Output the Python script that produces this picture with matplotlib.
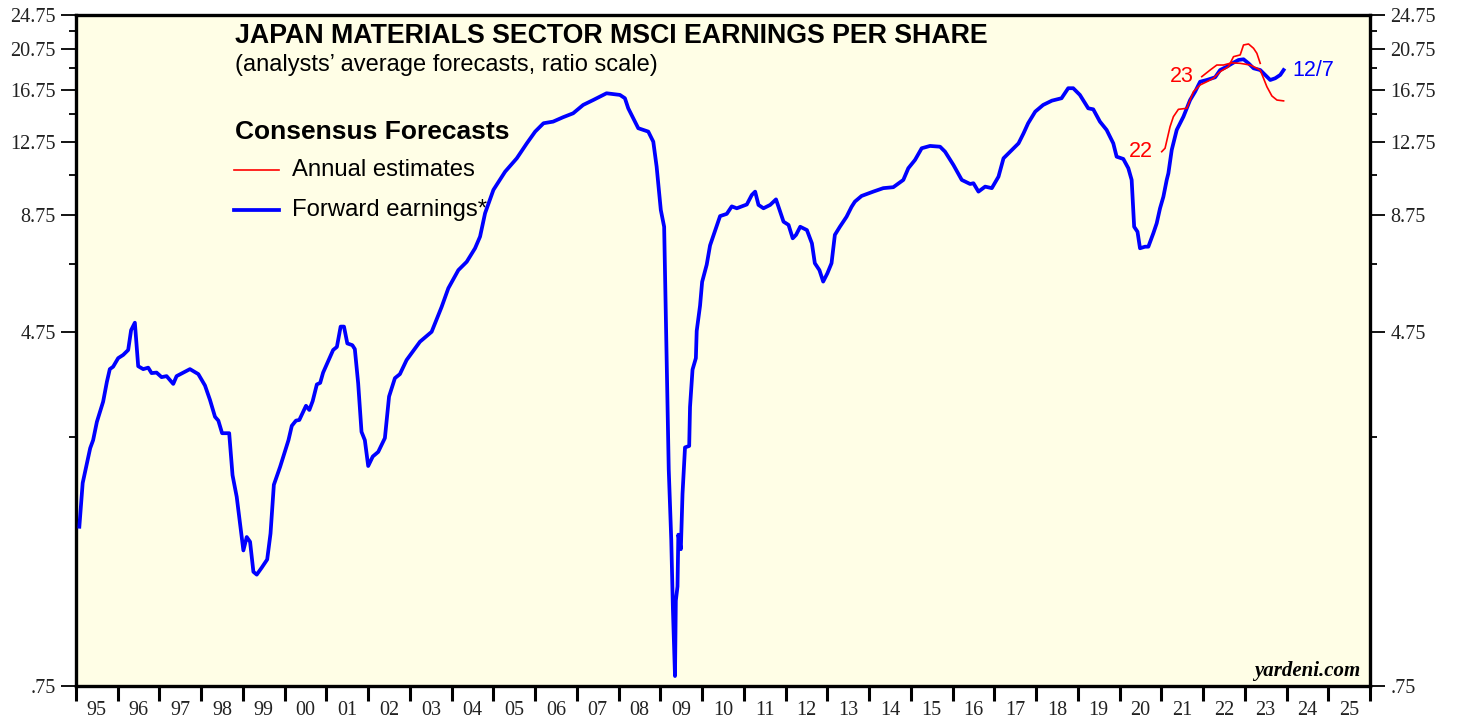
import matplotlib
matplotlib.use("Agg")
import matplotlib.pyplot as plt
from matplotlib.ticker import FixedLocator, FixedFormatter

# ----------------------
# Data (decimal years / EPS)
# ----------------------
fwd_years = [1995.08, 1995.16, 1995.34, 1995.41, 1995.50, 1995.65, 1995.74, 1995.81, 1995.89,
             1996.01, 1996.13, 1996.25, 1996.32, 1996.41, 1996.49, 1996.61, 1996.73, 1996.81,
             1996.93, 1997.05, 1997.17, 1997.33, 1997.41, 1997.73, 1997.93, 1998.09, 1998.21,
             1998.33, 1998.41, 1998.50, 1998.67, 1998.75, 1998.85, 1999.01, 1999.09, 1999.17,
             1999.25, 1999.33, 1999.45, 1999.58, 1999.66, 1999.74, 1999.89, 2000.09, 2000.17,
             2000.27, 2000.35, 2000.51, 2000.59, 2000.67, 2000.77, 2000.85, 2000.92, 2001.16,
             2001.25, 2001.34, 2001.42, 2001.50, 2001.62, 2001.68, 2001.76, 2001.84, 2001.92,
             2002.00, 2002.11, 2002.24, 2002.40, 2002.50, 2002.64, 2002.76, 2002.92, 2003.24,
             2003.52, 2003.76, 2003.92, 2004.16, 2004.36, 2004.56, 2004.68, 2004.80, 2005.00,
             2005.28, 2005.56, 2005.80, 2006.00, 2006.20, 2006.43, 2006.67, 2006.91, 2007.15,
             2007.39, 2007.71, 2008.03, 2008.15, 2008.23, 2008.47, 2008.71, 2008.83, 2008.91,
             2009.01, 2009.09, 2009.16, 2009.20, 2009.26, 2009.30, 2009.35, 2009.37, 2009.41,
             2009.43, 2009.49, 2009.53, 2009.59, 2009.69, 2009.71, 2009.77, 2009.85, 2009.87,
             2009.95, 2010.00, 2010.11, 2010.19, 2010.27, 2010.43, 2010.59, 2010.71, 2010.83,
             2011.07, 2011.19, 2011.27, 2011.35, 2011.47, 2011.63, 2011.77, 2011.87, 2011.95,
             2012.07, 2012.17, 2012.25, 2012.35, 2012.51, 2012.63, 2012.70, 2012.81, 2012.90,
             2013.00, 2013.10, 2013.18, 2013.30, 2013.46, 2013.58, 2013.66, 2013.82, 2014.10,
             2014.34, 2014.58, 2014.82, 2014.94, 2015.10, 2015.26, 2015.46, 2015.70, 2015.82,
             2016.02, 2016.22, 2016.42, 2016.50, 2016.62, 2016.78, 2016.94, 2017.10, 2017.22,
             2017.46, 2017.58, 2017.70, 2017.81, 2017.98, 2018.17, 2018.38, 2018.61, 2018.77,
             2018.89, 2019.05, 2019.25, 2019.37, 2019.53, 2019.69, 2019.85, 2019.93, 2020.09,
             2020.21, 2020.29, 2020.35, 2020.43, 2020.49, 2020.61, 2020.69, 2020.81, 2020.89,
             2020.97, 2021.05, 2021.13, 2021.17, 2021.25, 2021.37, 2021.53, 2021.69, 2021.81,
             2021.93, 2022.09, 2022.29, 2022.41, 2022.57, 2022.73, 2022.85, 2022.97, 2023.09,
             2023.21, 2023.37, 2023.49, 2023.61, 2023.73, 2023.85, 2023.93]
fwd_eps = [1.72, 2.16, 2.59, 2.70, 2.97, 3.30, 3.66, 3.91, 3.96,
           4.14, 4.21, 4.32, 4.79, 4.98, 3.97, 3.91, 3.94, 3.83,
           3.84, 3.75, 3.77, 3.62, 3.77, 3.91, 3.81, 3.59, 3.33,
           3.05, 2.99, 2.80, 2.80, 2.25, 2.01, 1.52, 1.63, 1.59,
           1.36, 1.34, 1.39, 1.45, 1.66, 2.14, 2.35, 2.70, 2.91,
           2.99, 3.00, 3.23, 3.16, 3.31, 3.61, 3.64, 3.84, 4.32,
           4.39, 4.88, 4.88, 4.47, 4.43, 4.34, 3.63, 2.82, 2.70,
           2.36, 2.48, 2.54, 2.73, 3.39, 3.73, 3.81, 4.10, 4.51,
           4.75, 5.41, 5.96, 6.55, 6.84, 7.34, 7.80, 8.81, 9.95,
           10.94, 11.73, 12.68, 13.48, 14.08, 14.20, 14.53, 14.83, 15.49,
           15.89, 16.46, 16.32, 16.04, 15.22, 13.72, 13.48, 12.79, 11.23,
           8.96, 8.21, 3.69, 2.32, 1.61, 1.12, 0.79, 1.17, 1.26,
           1.65, 1.53, 2.04, 2.60, 2.62, 3.21, 3.90, 4.14, 4.77,
           5.44, 6.16, 6.74, 7.45, 7.84, 8.68, 8.78, 9.13, 9.04,
           9.22, 9.69, 9.86, 9.20, 9.04, 9.20, 9.47, 8.88, 8.43,
           8.29, 7.73, 7.87, 8.21, 8.07, 7.53, 6.79, 6.55, 6.17,
           6.44, 6.79, 7.87, 8.21, 8.65, 9.11, 9.36, 9.64, 9.86,
           10.04, 10.09, 10.48, 11.14, 11.63, 12.36, 12.51, 12.46, 12.14,
           11.33, 10.48, 10.26, 10.30, 9.86, 10.12, 10.04, 10.66, 11.73,
           12.36, 12.68, 13.36, 14.08, 14.96, 15.49, 15.84, 16.04, 16.90,
           16.90, 16.32, 15.22, 15.14, 14.20, 13.60, 12.68, 11.83, 11.69,
           11.14, 10.48, 8.21, 8.00, 7.34, 7.40, 7.40, 7.94, 8.36,
           9.04, 9.60, 10.48, 10.85, 12.25, 13.60, 14.57, 15.89, 16.60,
           17.48, 17.64, 17.89, 18.58, 18.91, 19.31, 19.58, 19.65, 19.24,
           18.75, 18.58, 18.11, 17.64, 17.80, 18.11, 18.58]

est22_years = [2021.01, 2021.09, 2021.21, 2021.29, 2021.41, 2021.61, 2021.69, 2021.77, 2021.93,
               2022.09, 2022.25, 2022.41, 2022.61, 2022.73, 2022.89, 2022.97, 2023.09, 2023.21,
               2023.29, 2023.37]
est22_eps = [12.14, 12.36, 13.83, 14.57, 15.14, 15.22, 15.89, 16.60, 17.19,
             17.48, 17.80, 18.42, 18.91, 19.92, 20.10, 21.17, 21.28, 20.81,
             20.27, 19.24]

est23_years = [2021.97, 2022.17, 2022.33, 2022.49, 2022.69, 2022.89, 2023.13, 2023.29, 2023.37,
               2023.53, 2023.65, 2023.77, 2023.93]
est23_eps = [17.95, 18.58, 19.07, 19.07, 19.29, 19.24, 19.07, 18.75, 18.58,
             17.03, 16.23, 15.89, 15.82]

y_labeled = [0.75, 4.75, 8.75, 12.75, 16.75, 20.75, 24.75]
y_unlabeled = [2.75, 6.75, 10.75, 14.75, 18.75, 22.75]
year_labels = ["%02d" % (y % 100) for y in range(1995, 2026)]

RED = "#FF0000"
BLUE = "#0000FF"
SANS = "Liberation Sans"
SERIF = "Liberation Serif"

# ----------------------
# Figure
# ----------------------
fig = plt.figure(figsize=(14.57, 7.19), dpi=100)
ax = fig.add_axes([76 / 1457, 1 - 686 / 719, (1370 - 76) / 1457, (686 - 15) / 719])
ax.set_facecolor("#FFFEE6")

ax.plot(fwd_years, fwd_eps, color=BLUE, lw=2.7, solid_joinstyle="round", zorder=3)
ax.plot(est22_years, est22_eps, color=RED, lw=1.2, zorder=4)
ax.plot(est23_years, est23_eps, color=RED, lw=1.2, zorder=4)

ax.set_yscale("log")
ax.set_ylim(0.75, 24.75)
ax.set_xlim(1995, 2026)

# y axis: labeled ticks long, others short, both sides
ax.yaxis.set_major_locator(FixedLocator(y_labeled))
ax.yaxis.set_major_formatter(FixedFormatter([".75"] + ["%.2f" % v for v in y_labeled[1:]]))
ax.yaxis.set_minor_locator(FixedLocator(y_unlabeled))
ax.yaxis.set_minor_formatter(FixedFormatter([""] * len(y_unlabeled)))
ax.tick_params(axis="y", which="major", direction="out", length=10.5, width=1.3,
               left=True, right=True, labelleft=True, labelright=True, pad=4,
               labelsize=14.5, labelcolor="#222222")
ax.tick_params(axis="y", which="minor", direction="out", length=5, width=1.3,
               left=True, right=True)
for lab in ax.get_yticklabels():
    lab.set_fontfamily(SERIF)

# x axis: ticks at year boundaries, labels centered in each year
ax.xaxis.set_major_locator(FixedLocator(list(range(1995, 2027))))
ax.xaxis.set_major_formatter(FixedFormatter([""] * 32))
ax.xaxis.set_minor_locator(FixedLocator([y + 0.5 for y in range(1995, 2026)]))
ax.xaxis.set_minor_formatter(FixedFormatter(year_labels))
ax.tick_params(axis="x", which="major", direction="out", length=11, width=2.2)
ax.tick_params(axis="x", which="minor", length=0, pad=11, labelsize=14.5, labelcolor="#222222")
for lab in ax.get_xticklabels(minor=True):
    lab.set_fontfamily(SERIF)

for s in ax.spines.values():
    s.set_linewidth(2.4)
    s.set_color("black")

# ----------------------
# Titles, legend, annotations
# ----------------------
ax.text(0.1229, 0.969, "JAPAN MATERIALS SECTOR MSCI EARNINGS PER SHARE", transform=ax.transAxes,
        fontsize=19.3, fontweight="bold", family=SANS, va="center", ha="left")
ax.text(0.1229, 0.925, "(analysts\u2019 average forecasts, ratio scale)", transform=ax.transAxes,
        fontsize=17, family=SANS, va="center", ha="left")

ax.text(0.1229, 0.826, "Consensus Forecasts", transform=ax.transAxes,
        fontsize=19, fontweight="bold", family=SANS, va="center", ha="left")
ax.plot([0.1221, 0.1568], [0.7695, 0.7695], transform=ax.transAxes, color=RED, lw=1.2)
ax.text(0.1669, 0.7695, "Annual estimates", transform=ax.transAxes,
        fontsize=17.2, family=SANS, va="center", ha="left")
ax.plot([0.1221, 0.1568], [0.710, 0.710], transform=ax.transAxes, color=BLUE, lw=2.7)
ax.text(0.1669, 0.710, "Forward earnings*", transform=ax.transAxes,
        fontsize=17.2, family=SANS, va="center", ha="left")

ax.text(est22_years[0] - 0.2, est22_eps[0], "22", color=RED, fontsize=15.5, family=SANS,
        ha="right", va="center")
ax.text(est23_years[0] - 0.2, est23_eps[0], "23", color=RED, fontsize=15.5, family=SANS,
        ha="right", va="center")
ax.text(fwd_years[-1] + 0.2, fwd_eps[-1], "12/7", color=BLUE, fontsize=15.5, family=SANS,
        ha="left", va="center")

ax.text(0.9927, 0.022, "yardeni.com", transform=ax.transAxes, fontsize=15,
        fontweight="bold", fontstyle="italic", family=SERIF, ha="right", va="center")

fig.savefig("out.png", dpi=100, facecolor="white")
